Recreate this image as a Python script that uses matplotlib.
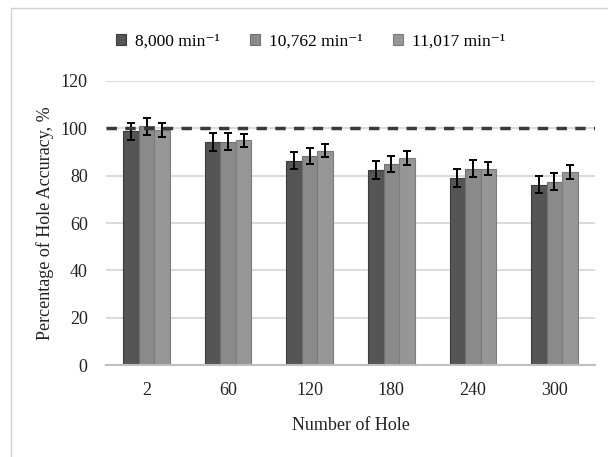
import matplotlib
matplotlib.use("Agg")
import matplotlib.pyplot as plt
from matplotlib.patches import Rectangle
import numpy as np

plt.rcParams["font.family"] = ["Liberation Serif", "DejaVu Serif"]

# Data
holes = ["2", "60", "120", "180", "240", "300"]
speeds = ["8,000 min⁻¹", "10,762 min⁻¹", "11,017 min⁻¹"]
acc_8000 = [98.7, 94.0, 86.2, 82.4, 79.0, 76.1]
acc_10762 = [100.8, 94.4, 88.3, 85.1, 83.0, 77.5]
acc_11017 = [99.4, 94.9, 90.6, 87.6, 83.0, 81.7]
err_8000 = [3.7, 3.8, 3.6, 3.7, 3.7, 3.6]
err_10762 = [3.5, 3.7, 3.4, 3.4, 3.4, 3.5]
err_11017 = [3.0, 2.8, 2.8, 3.0, 2.8, 3.0]
target = 100

series = [acc_8000, acc_10762, acc_11017]
errors = [err_8000, err_10762, err_11017]
colors = ["#555555", "#8a8a8a", "#969696"]
edges = ["#3c3c3c", "#707070", "#7c7c7c"]

fig = plt.figure(figsize=(6.08, 4.57), dpi=100)
ax = fig.add_axes([0.174, 0.201, 0.805, 0.622])

# Light border around the chart area
fig.patches.append(Rectangle((11 / 608, -0.05), 1.1, 1 - 8 / 457 + 0.05,
                             transform=fig.transFigure, fill=False,
                             edgecolor="#d0d0d0", lw=1))

x = np.arange(len(holes))
width = 0.19
for i, (vals, errs) in enumerate(zip(series, errors)):
    ax.bar(x + (i - 1) * width, vals, width, color=colors[i],
           edgecolor=edges[i], linewidth=0.8, label=speeds[i], zorder=2)
    ax.errorbar(x + (i - 1) * width, vals, yerr=errs, fmt="none",
                ecolor="black", elinewidth=1.4, capsize=3,
                capthick=1.4, zorder=3)

ax.axhline(target, color="#3a3a3a", lw=2.5, dashes=(3, 2.4), zorder=4)

ax.set_ylim(0, 120)
ax.set_xlim(-0.5, len(holes) - 0.5)
ax.set_yticks(range(0, 121, 20))
ax.set_xticks(x)
ax.set_xticklabels(holes)
ax.yaxis.grid(True, color="#d4d4d4", lw=1.2, zorder=0)
ax.set_axisbelow(True)
for s in ["top", "right", "left"]:
    ax.spines[s].set_visible(False)
ax.spines["bottom"].set_color("#bfbfbf")
ax.spines["bottom"].set_linewidth(1.5)
ax.tick_params(length=0, labelsize=13, colors="#222222")
ax.tick_params(axis="x", pad=12)
ax.tick_params(axis="y", pad=13)

ax.set_xlabel("Number of Hole", fontsize=13, color="#222222", labelpad=13)
ax.set_ylabel("Percentage of Hole Accuracy, %", fontsize=13,
              color="#222222", labelpad=5)

fig.legend(loc="upper left", bbox_to_anchor=(100 / 608, 1 - 18 / 457),
           ncol=3, frameon=False, fontsize=12.5, handlelength=0.6,
           handleheight=0.6, handletextpad=0.5, columnspacing=1.75)

fig.savefig("out.png", dpi=100)
